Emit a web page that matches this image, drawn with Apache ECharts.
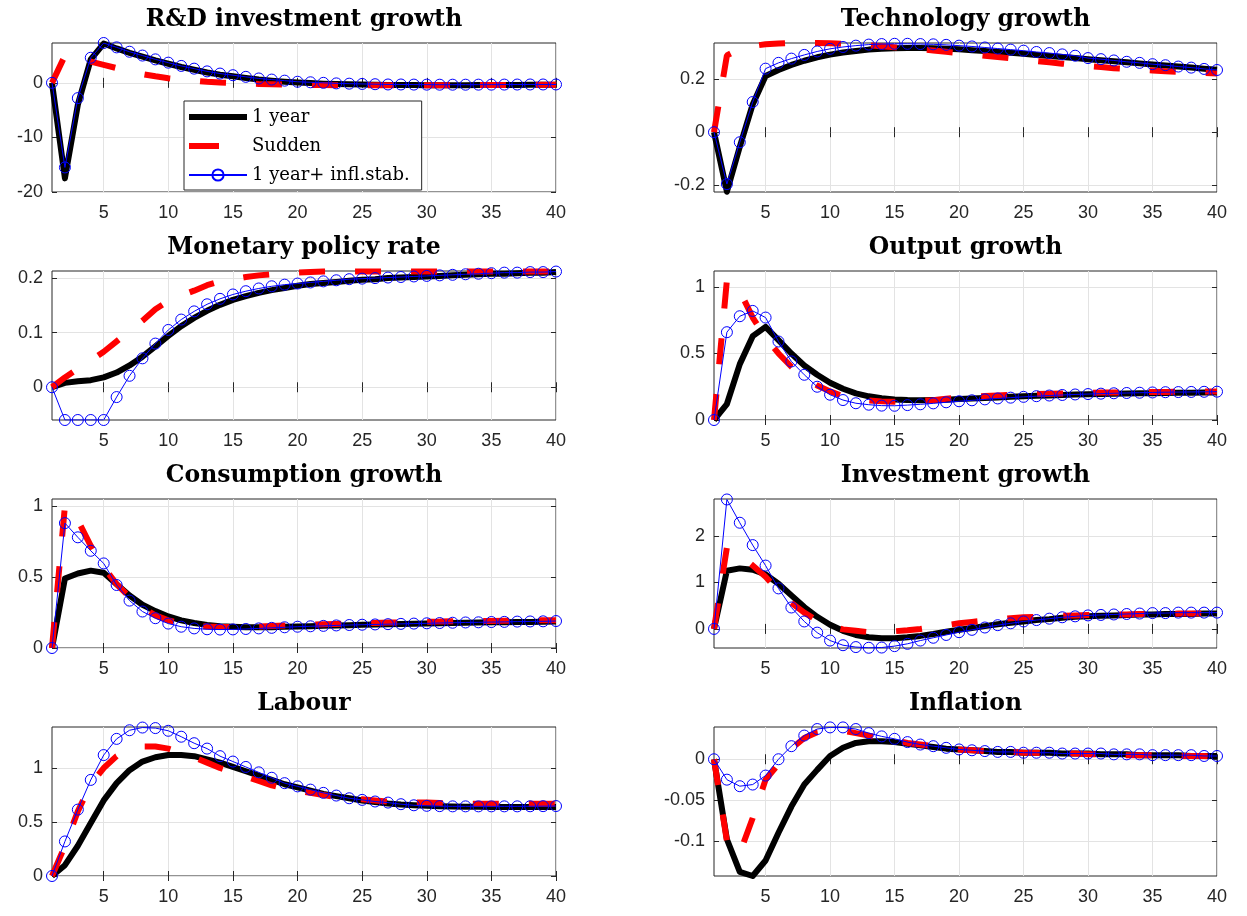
<!DOCTYPE html>
<html>
<head>
<meta charset="utf-8">
<script src="https://cdn.jsdelivr.net/npm/echarts@6/dist/echarts.min.js"></script>
<style>
html,body{margin:0;padding:0;background:#fff;}
#chart{width:1247px;height:916px;}
</style>
</head>
<body>
<div id="chart"></div>
<script>
// ---------- DATA ----------
const periods = [1,2,3,4,5,6,7,8,9,10,11,12,13,14,15,16,17,18,19,20,21,22,23,24,25,26,27,28,29,30,31,32,33,34,35,36,37,38,39,40];
const xTicks = [5,10,15,20,25,30,35,40];
const seriesNames = ['1 year', 'Sudden', '1 year+ infl.stab.'];

// R&D investment growth
const rdOneYear = [0,-17.5,-4,4.3,7.2,6.3,5.5,4.8,4.1,3.5,2.9,2.4,1.9,1.5,1.2,0.9,0.6,0.4,0.2,0.05,-0.05,-0.15,-0.2,-0.25,-0.3,-0.35,-0.38,-0.4,-0.4,-0.42,-0.42,-0.42,-0.42,-0.4,-0.4,-0.38,-0.38,-0.36,-0.35,-0.34];
const rdSudden = [0,5,4.4,3.9,3.3,2.7,2.1,1.6,1.2,0.85,0.6,0.4,0.2,0.05,-0.05,-0.12,-0.2,-0.25,-0.3,-0.35,-0.4,-0.4,-0.42,-0.45,-0.45,-0.45,-0.45,-0.45,-0.45,-0.45,-0.45,-0.45,-0.43,-0.42,-0.4,-0.4,-0.38,-0.37,-0.36,-0.35];
const rdInflStab = [0,-15.5,-2.8,4.6,7.3,6.5,5.7,5.0,4.3,3.7,3.1,2.6,2.1,1.7,1.4,1.1,0.8,0.6,0.4,0.2,0.1,0,-0.1,-0.15,-0.2,-0.25,-0.3,-0.3,-0.32,-0.33,-0.34,-0.34,-0.34,-0.33,-0.33,-0.32,-0.31,-0.3,-0.3,-0.3];
const rdTicks = [-20,-10,0];

// Technology growth
const techOneYear = [0,-0.225,-0.055,0.105,0.212,0.235,0.254,0.27,0.283,0.293,0.301,0.307,0.312,0.315,0.317,0.318,0.318,0.317,0.315,0.313,0.31,0.307,0.303,0.3,0.296,0.292,0.288,0.284,0.28,0.276,0.272,0.268,0.264,0.26,0.256,0.252,0.248,0.244,0.24,0.236];
const techSudden = [0,0.29,0.315,0.326,0.332,0.335,0.337,0.337,0.337,0.336,0.334,0.331,0.328,0.325,0.321,0.317,0.313,0.309,0.304,0.299,0.294,0.289,0.284,0.279,0.274,0.269,0.264,0.259,0.254,0.25,0.246,0.242,0.239,0.236,0.233,0.23,0.228,0.226,0.224,0.222];
const techInflStab = [0,-0.196,-0.038,0.114,0.24,0.262,0.278,0.292,0.305,0.315,0.322,0.327,0.331,0.333,0.334,0.334,0.333,0.332,0.33,0.327,0.324,0.32,0.316,0.312,0.308,0.303,0.299,0.294,0.289,0.28,0.276,0.271,0.266,0.262,0.257,0.253,0.248,0.244,0.239,0.235];
const techTicks = [-0.2,0,0.2];

// Monetary policy rate
const rateOneYear = [0,0.008,0.011,0.013,0.018,0.027,0.04,0.056,0.075,0.094,0.112,0.127,0.14,0.151,0.16,0.167,0.173,0.178,0.182,0.186,0.189,0.191,0.193,0.195,0.197,0.198,0.2,0.201,0.202,0.203,0.204,0.205,0.206,0.207,0.208,0.208,0.209,0.21,0.21,0.211];
const rateSudden = [0,0.018,0.034,0.049,0.065,0.084,0.103,0.122,0.143,0.158,0.168,0.177,0.187,0.194,0.198,0.202,0.205,0.207,0.209,0.21,0.211,0.212,0.212,0.212,0.212,0.212,0.212,0.212,0.212,0.212,0.212,0.212,0.212,0.212,0.212,0.212,0.212,0.212,0.212,0.212];
const rateInflStab = [0,-0.06,-0.06,-0.06,-0.06,-0.018,0.021,0.053,0.08,0.105,0.124,0.139,0.152,0.162,0.17,0.176,0.181,0.185,0.188,0.19,0.192,0.194,0.196,0.198,0.199,0.2,0.201,0.202,0.203,0.204,0.205,0.206,0.207,0.208,0.209,0.21,0.21,0.211,0.211,0.212];
const rateTicks = [0,0.1,0.2];

// Output growth
const outOneYear = [0,0.12,0.42,0.63,0.7,0.6,0.5,0.41,0.34,0.28,0.235,0.2,0.178,0.164,0.155,0.15,0.149,0.15,0.153,0.157,0.161,0.165,0.17,0.174,0.178,0.182,0.185,0.188,0.191,0.193,0.195,0.197,0.199,0.201,0.202,0.203,0.204,0.205,0.206,0.207];
const outSudden = [0,1.05,0.97,0.77,0.62,0.5,0.4,0.32,0.26,0.215,0.18,0.158,0.146,0.14,0.138,0.14,0.144,0.149,0.16,0.168,0.175,0.18,0.185,0.189,0.192,0.195,0.198,0.2,0.202,0.204,0.206,0.207,0.208,0.209,0.21,0.211,0.212,0.213,0.214,0.215];
const outInflStab = [0,0.66,0.78,0.82,0.77,0.59,0.44,0.34,0.25,0.19,0.15,0.126,0.115,0.108,0.107,0.112,0.118,0.125,0.133,0.141,0.148,0.155,0.162,0.168,0.174,0.179,0.184,0.188,0.192,0.195,0.198,0.201,0.203,0.205,0.207,0.209,0.21,0.211,0.212,0.213];
const outTicks = [0,0.5,1];

// Consumption growth
const consOneYear = [0,0.49,0.525,0.545,0.53,0.45,0.37,0.305,0.26,0.222,0.195,0.176,0.163,0.154,0.149,0.146,0.146,0.147,0.149,0.151,0.154,0.156,0.158,0.161,0.163,0.165,0.167,0.169,0.171,0.173,0.175,0.176,0.178,0.179,0.181,0.182,0.183,0.184,0.185,0.186];
const consSudden = [0,1.0,0.9,0.72,0.57,0.45,0.36,0.285,0.23,0.195,0.172,0.158,0.151,0.148,0.148,0.15,0.152,0.155,0.158,0.161,0.164,0.167,0.17,0.172,0.175,0.177,0.179,0.181,0.183,0.185,0.186,0.188,0.189,0.19,0.191,0.192,0.193,0.194,0.195,0.196];
const consInflStab = [0,0.88,0.78,0.685,0.596,0.444,0.334,0.257,0.21,0.172,0.15,0.138,0.132,0.13,0.131,0.134,0.138,0.142,0.146,0.15,0.153,0.156,0.159,0.162,0.164,0.166,0.168,0.17,0.172,0.174,0.176,0.178,0.18,0.181,0.183,0.184,0.186,0.187,0.188,0.19];
const consTicks = [0,0.5,1];

// Investment growth
const invOneYear = [0,1.25,1.3,1.27,1.17,0.97,0.72,0.47,0.26,0.09,-0.04,-0.13,-0.18,-0.2,-0.2,-0.18,-0.15,-0.11,-0.06,-0.02,0.02,0.06,0.1,0.13,0.16,0.19,0.21,0.24,0.26,0.27,0.28,0.29,0.3,0.31,0.31,0.32,0.32,0.32,0.33,0.33];
const invSudden = [0,1.75,1.6,1.36,1.12,0.82,0.56,0.35,0.18,0.06,-0.01,-0.04,-0.07,-0.07,-0.05,-0.03,0.0,0.04,0.08,0.12,0.15,0.18,0.2,0.23,0.25,0.26,0.27,0.28,0.29,0.3,0.3,0.31,0.31,0.32,0.32,0.32,0.33,0.33,0.33,0.33];
const invInflStab = [0,2.78,2.28,1.8,1.36,0.87,0.46,0.16,-0.08,-0.25,-0.35,-0.39,-0.405,-0.4,-0.37,-0.32,-0.25,-0.19,-0.13,-0.07,-0.02,0.03,0.08,0.12,0.16,0.19,0.22,0.25,0.27,0.29,0.3,0.31,0.32,0.33,0.34,0.34,0.35,0.35,0.35,0.35];
const invTicks = [0,1,2];

// Labour
const labOneYear = [0,0.1,0.28,0.49,0.7,0.86,0.98,1.06,1.1,1.12,1.12,1.11,1.08,1.05,1.01,0.97,0.93,0.89,0.85,0.82,0.79,0.76,0.74,0.72,0.7,0.685,0.672,0.662,0.655,0.65,0.646,0.644,0.642,0.641,0.64,0.64,0.64,0.64,0.64,0.64];
const labSudden = [0,0.28,0.6,0.85,1.0,1.11,1.17,1.2,1.2,1.18,1.14,1.1,1.05,1.0,0.96,0.92,0.88,0.84,0.81,0.79,0.77,0.75,0.73,0.72,0.71,0.7,0.69,0.685,0.68,0.68,0.675,0.67,0.67,0.67,0.67,0.67,0.67,0.67,0.67,0.67];
const labInflStab = [0,0.32,0.615,0.89,1.12,1.27,1.35,1.375,1.37,1.345,1.29,1.23,1.18,1.11,1.06,1.01,0.96,0.91,0.86,0.83,0.8,0.77,0.745,0.72,0.705,0.69,0.68,0.665,0.655,0.65,0.647,0.645,0.645,0.645,0.645,0.645,0.645,0.646,0.647,0.648];
const labTicks = [0,0.5,1];

// Inflation
const inflOneYear = [0,-0.098,-0.138,-0.143,-0.124,-0.09,-0.058,-0.031,-0.013,0.004,0.014,0.02,0.022,0.022,0.021,0.019,0.017,0.015,0.013,0.012,0.011,0.01,0.009,0.009,0.008,0.008,0.008,0.007,0.007,0.007,0.006,0.006,0.006,0.005,0.005,0.005,0.005,0.004,0.004,0.004];
const inflSudden = [0,-0.1,-0.115,-0.072,-0.025,-0.006,0.013,0.026,0.033,0.036,0.035,0.032,0.029,0.026,0.023,0.02,0.018,0.016,0.014,0.012,0.011,0.01,0.009,0.009,0.008,0.008,0.007,0.007,0.007,0.006,0.006,0.006,0.005,0.005,0.005,0.005,0.004,0.004,0.004,0.003];
const inflInflStab = [0,-0.025,-0.033,-0.031,-0.02,0.0,0.016,0.029,0.037,0.039,0.039,0.037,0.032,0.028,0.025,0.021,0.018,0.016,0.014,0.012,0.011,0.01,0.009,0.009,0.008,0.008,0.008,0.007,0.007,0.007,0.007,0.006,0.006,0.006,0.005,0.005,0.005,0.005,0.004,0.004];
const inflTicks = [-0.1,-0.05,0];

// ---------- PANELS ----------
const panels = [
  {title:'R&D investment growth', a:rdOneYear, b:rdSudden, c:rdInflStab, ticks:rdTicks, min:-20, max:7.3},
  {title:'Technology growth', a:techOneYear, b:techSudden, c:techInflStab, ticks:techTicks, min:-0.226, max:0.337},
  {title:'Monetary policy rate', a:rateOneYear, b:rateSudden, c:rateInflStab, ticks:rateTicks, min:-0.06, max:0.213},
  {title:'Output growth', a:outOneYear, b:outSudden, c:outInflStab, ticks:outTicks, min:0, max:1.12},
  {title:'Consumption growth', a:consOneYear, b:consSudden, c:consInflStab, ticks:consTicks, min:0, max:1.05},
  {title:'Investment growth', a:invOneYear, b:invSudden, c:invInflStab, ticks:invTicks, min:-0.41, max:2.79},
  {title:'Labour', a:labOneYear, b:labSudden, c:labInflStab, ticks:labTicks, min:0, max:1.38},
  {title:'Inflation', a:inflOneYear, b:inflSudden, c:inflInflStab, ticks:inflTicks, min:-0.143, max:0.0395}
];

const colLeft = [52, 714];
const colWidth = [504, 503];
const rowTop = [43, 271, 499, 727];
const plotHeight = 149;
const axisColor = '#262626';
const gridColor = '#e3e3e3';

const grids = [], xAxes = [], yAxes = [], titles = [], series = [];
const pairs = arr => arr.map((v, k) => [periods[k], v]);

panels.forEach((p, i) => {
  const col = i % 2, row = Math.floor(i / 2);
  grids.push({left: colLeft[col], top: rowTop[row], width: colWidth[col], height: plotHeight,
    show: true, borderColor: axisColor, borderWidth: 1, backgroundColor: '#fff', containLabel: false});
  titles.push({text: p.title, left: colLeft[col] + colWidth[col] / 2, top: rowTop[row] - 35, textAlign: 'center', padding: 0,
    textStyle: {fontFamily: 'DejaVu Serif', fontWeight: 'bold', fontSize: 23.5, color: '#000'}});
  const tickStyle = {show: true, inside: true, length: 5, lineStyle: {color: axisColor, width: 1}};
  xAxes.push({type: 'value', gridIndex: i, min: 1, max: 40, position: 'bottom',
    axisLine: {show: false},
    axisTick: Object.assign({customValues: xTicks}, tickStyle),
    axisLabel: {customValues: xTicks, margin: 12, fontSize: 18, color: axisColor, fontFamily: 'Liberation Sans'},
    splitLine: {show: true, lineStyle: {color: gridColor, width: 1}}});
  xAxes.push({type: 'value', gridIndex: i, min: 1, max: 40, position: 'top',
    axisLine: {show: false},
    axisTick: Object.assign({customValues: xTicks}, tickStyle),
    axisLabel: {show: false}, splitLine: {show: false}});
  yAxes.push({type: 'value', gridIndex: i, min: p.min, max: p.max, position: 'left',
    axisLine: {show: false},
    axisTick: Object.assign({customValues: p.ticks}, tickStyle),
    axisLabel: {customValues: p.ticks, margin: 9, fontSize: 18, color: axisColor, fontFamily: 'Liberation Sans'},
    splitLine: {show: true, lineStyle: {color: gridColor, width: 1}}});
  yAxes.push({type: 'value', gridIndex: i, min: p.min, max: p.max, position: 'right',
    axisLine: {show: false},
    axisTick: Object.assign({customValues: p.ticks}, tickStyle),
    axisLabel: {show: false}, splitLine: {show: false}});
  const base = {type: 'line', xAxisIndex: 2 * i, yAxisIndex: 2 * i, animation: false, silent: true};
  series.push(Object.assign({}, base, {name: seriesNames[0], data: pairs(p.a), symbol: 'none',
    lineStyle: {color: '#000', width: 6, join: 'round'}, itemStyle: {color: '#000'}}));
  series.push(Object.assign({}, base, {name: seriesNames[1], data: pairs(p.b), symbol: 'none',
    lineStyle: {color: '#ff0000', width: 6, type: [26, 30], cap: 'butt'}, itemStyle: {color: '#ff0000'}}));
  series.push(Object.assign({}, base, {name: seriesNames[2], data: pairs(p.c), symbol: 'circle', symbolSize: 11, showSymbol: true,
    lineStyle: {color: '#0000ff', width: 1}, itemStyle: {color: 'rgba(0,0,0,0)', borderColor: '#0000ff', borderWidth: 1}}));
});

const option = {
  backgroundColor: '#fff',
  animation: false,
  title: titles,
  grid: grids,
  xAxis: xAxes,
  yAxis: yAxes,
  legend: {
    data: [
      {name: seriesNames[0], icon: 'path://M0,0M58,14M0,4L58,4L58,10L0,10Z', itemStyle: {color: '#000', borderWidth: 0}},
      {name: seriesNames[1], icon: 'path://M0,0M58,14M0,4L30,4L30,10L0,10Z', itemStyle: {color: '#ff0000', borderWidth: 0}},
      {name: seriesNames[2]}
    ],
    orient: 'vertical', left: 184, top: 101,
    backgroundColor: '#fff', borderColor: '#262626', borderWidth: 1,
    padding: [7, 12, 6, 4], itemGap: 11, itemWidth: 58, itemHeight: 14,
    textStyle: {fontFamily: 'DejaVu Serif', fontSize: 18, color: '#000'},
    selectedMode: false
  },
  series: series
};

const chart = echarts.init(document.getElementById('chart'), null, {renderer: 'canvas'});
chart.setOption(option);
</script>
</body>
</html>
